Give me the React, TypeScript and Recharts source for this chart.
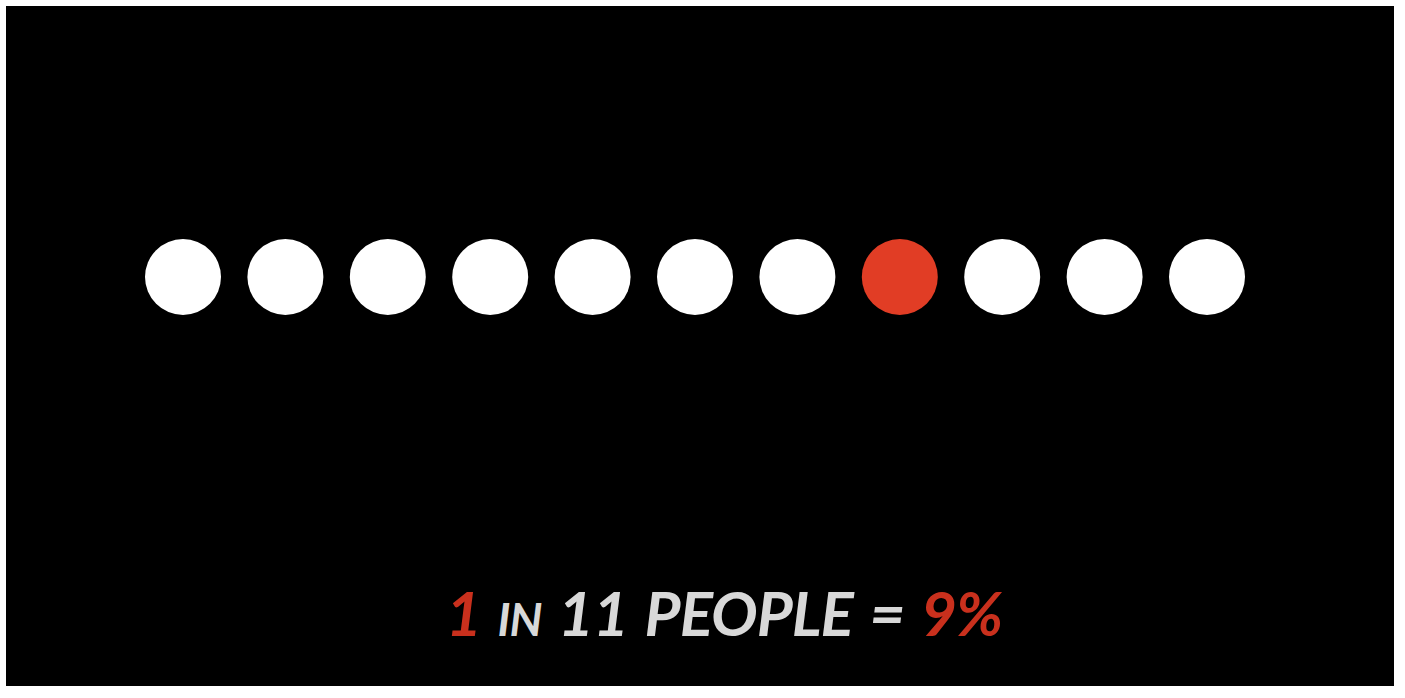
import { ScatterChart, Scatter, XAxis, YAxis } from "recharts";

const people = [1, 2, 3, 4, 5, 6, 7, 8, 9, 10, 11];
const highlighted = [8];
const row = [1, 1, 1, 1, 1, 1, 1, 1, 1, 1, 1];

const data = people.map((p, i) => ({ x: p, y: row[i], hit: highlighted.includes(p) }));

const Dot = (props: any) => (
  <circle
    cx={props.cx}
    cy={props.cy}
    r={38}
    fill={props.payload.hit ? "#e13d25" : "#ffffff"}
  />
);

export default function App() {
  return (
    <div
      style={{
        position: "absolute",
        left: 6,
        top: 6,
        width: 1388,
        height: 680,
        background: "#000",
      }}
    >
      <ScatterChart
        width={1388}
        height={680}
        margin={{ top: 0, right: 187, bottom: 138, left: 177 }}
      >
        <XAxis type="number" dataKey="x" domain={[1, 11]} hide />
        <YAxis type="number" dataKey="y" domain={[0.5, 1.5]} hide />
        <Scatter data={data} shape={Dot} isAnimationActive={false} />
      </ScatterChart>
      <div
        style={{
          position: "absolute",
          left: 440,
          top: 575,
          fontFamily: "Lato",
          fontStyle: "italic",
          fontWeight: 700,
          fontSize: 62,
          letterSpacing: -1,
          wordSpacing: 4,
          color: "#d8d8d8",
          whiteSpace: "nowrap",
          lineHeight: 1,
        }}
      >
        <span style={{ color: "#c9301d" }}>1</span>{" "}
        <span style={{ fontSize: 46 }}>IN</span> 11 PEOPLE ={" "}
        <span style={{ color: "#c9301d" }}>9%</span>
      </div>
    </div>
  );
}
